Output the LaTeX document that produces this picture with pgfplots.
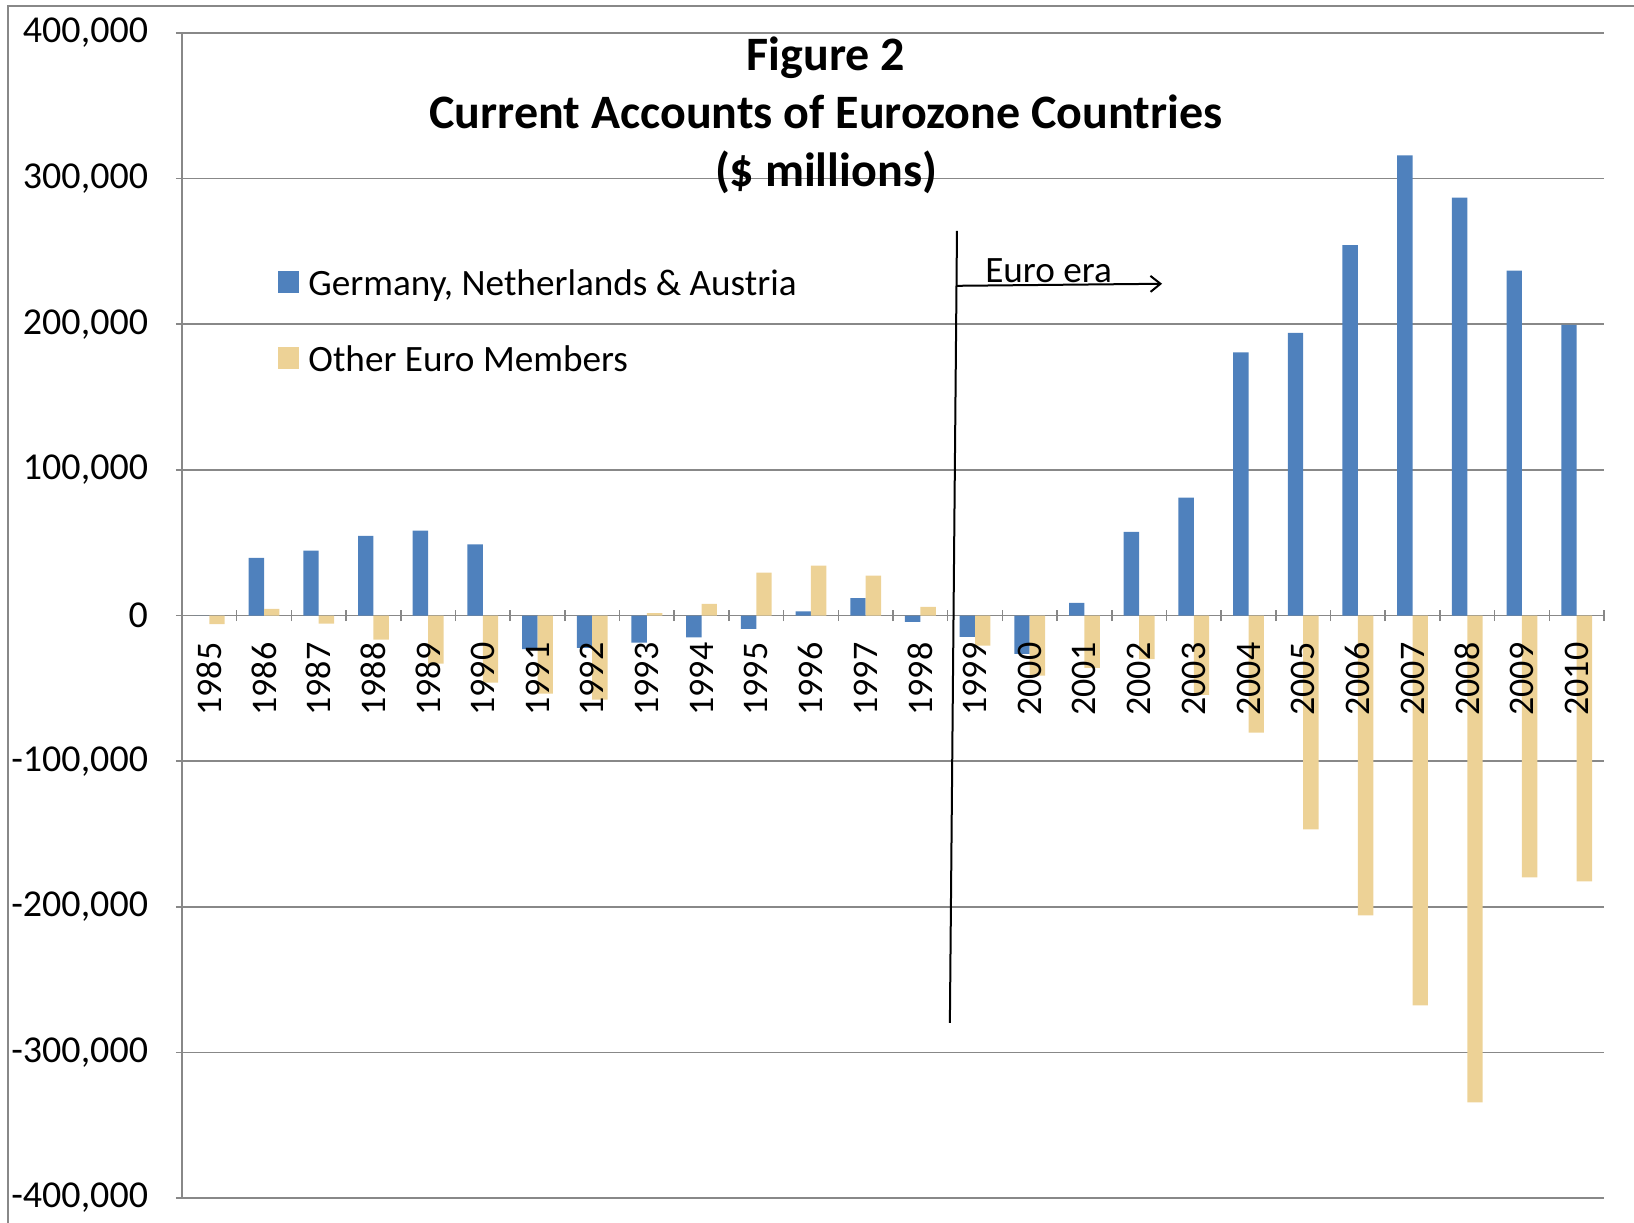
\documentclass[border=0pt]{standalone}
\usepackage{pgfplots}
\pgfplotsset{compat=1.18}
\usepackage{fontspec}
\setmainfont{Carlito}
\usetikzlibrary{arrows.meta}
\definecolor{gblue}{HTML}{4F81BD}
\definecolor{tan}{HTML}{EDD296}
\definecolor{gridgray}{HTML}{888888}
\pgfplotsset{
  common/.style={
    at={(91pt,12pt)}, anchor=south west,
    scale only axis, width=711pt, height=582.5pt,
    xmin=-0.5, xmax=25.5, ymin=-400000, ymax=400000,
    tick align=outside,
    major tick length=6pt, minor tick length=5.5pt,
    hide obscured x ticks=false, hide obscured y ticks=false,
    xtick={0,...,25},
    major x tick style={draw=none},
  }
}
\begin{document}
\begin{tikzpicture}
\path[use as bounding box] (0,0) rectangle (817pt,611pt);
\draw[gridgray, line width=0.8pt] (4pt,-5pt) -- (4pt,608pt) -- (830pt,608pt);
\begin{axis}[
  common,
  ybar=0pt, bar width=7.7pt,
  axis y line=left, axis x line=middle,
  axis line style={-, gridgray, line width=0.8pt},
  xticklabels={},
  minor xtick={-0.5,0.5,1.5,2.5,3.5,4.5,5.5,6.5,7.5,8.5,9.5,10.5,11.5,12.5,13.5,14.5,15.5,16.5,17.5,18.5,19.5,20.5,21.5,22.5,23.5,24.5,25.5},
  minor x tick style={gridgray, line width=0.8pt},
  y tick style={gridgray, line width=0.8pt},
  ytick={-400000,-300000,-200000,-100000,0,100000,200000,300000,400000},
  yticklabels={{-400,000},{-300,000},{-200,000},{-100,000},{0},{100,000},{200,000},{300,000},{400,000}},
  yticklabel style={anchor=east, inner sep=0pt, xshift=-13.8pt, font=\fontsize{19}{22.8}\selectfont},
  ymajorgrids, grid style={gridgray, line width=0.8pt},
  legend style={draw=none, fill=none, at={(rel axis cs:0.0675,0.7974)}, anchor=north west,
    inner sep=0pt, row sep=23.7pt, column sep=4.5pt,
    nodes={inner sep=0pt}, font=\fontsize{18.6}{22.3}\selectfont},
  legend cell align=left,
  legend image code/.code={\fill[#1] (0pt,-4.6pt) rectangle (10.5pt,6.4pt);},
]
\addplot[fill=gblue, draw=none] coordinates {
(0,0) (1,39500) (2,44500) (3,54600) (4,58300) (5,48900) (6,-23100) (7,-22200) (8,-18600) (9,-15100) (10,-9200) (11,2800) (12,12000) (13,-4300) (14,-14700) (15,-26400) (16,8700) (17,57500) (18,80900) (19,180700) (20,194100) (21,254300) (22,315900) (23,287000) (24,236900) (25,199500)};
\addlegendentry{Germany, Netherlands \& Austria}
\addplot[fill=tan, draw=none] coordinates {
(0,-6000) (1,4600) (2,-5500) (3,-16500) (4,-33000) (5,-46100) (6,-53700) (7,-57800) (8,1600) (9,8000) (10,29400) (11,34200) (12,27300) (13,6000) (14,-20600) (15,-41300) (16,-36000) (17,-30000) (18,-54500) (19,-80500) (20,-146900) (21,-205900) (22,-267700) (23,-334400) (24,-179900) (25,-182600)};
\addlegendentry{Other Euro Members}
\draw[black, line width=1pt] (axis cs:13.67,264200) -- (axis cs:13.54,-279700);
\draw[black, line width=1pt, -{Straight Barb[length=5pt,width=8pt]}] (axis cs:13.67,226400) -- (axis cs:17.42,227800);
\node[anchor=base west, inner sep=0pt, font=\fontsize{18.6}{22.3}\selectfont] at (axis cs:14.18,228400) {Euro era};
\end{axis}
\begin{axis}[
  common,
  axis x line=middle, axis y line=none,
  axis line style={draw=none},
  ytick=\empty,
  xticklabels={1985,1986,1987,1988,1989,1990,1991,1992,1993,1994,1995,1996,1997,1998,1999,2000,2001,2002,2003,2004,2005,2006,2007,2008,2009,2010},
  xticklabel style={rotate=90, anchor=east, inner sep=0pt, xshift=-10.4pt, font=\fontsize{18}{21.6}\selectfont},
]
\end{axis}
\node[align=center, font=\bfseries\fontsize{24}{29}\selectfont] at (413pt,553.5pt) {Figure 2\\Current Accounts of Eurozone Countries\\(\$ millions)};
\end{tikzpicture}
\end{document}
